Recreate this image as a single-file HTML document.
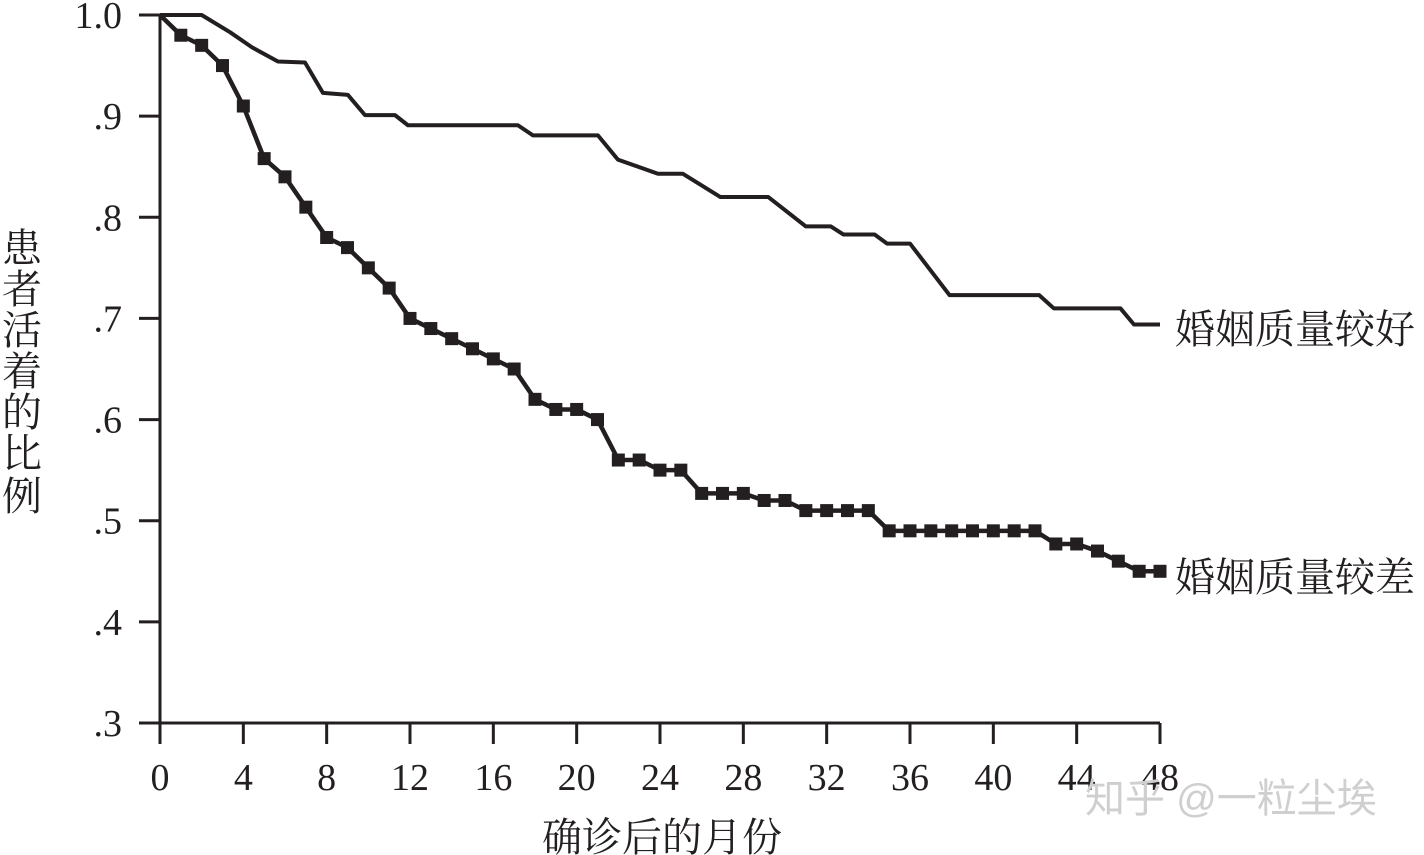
<!DOCTYPE html>
<html><head><meta charset="utf-8"><style>
html,body{margin:0;padding:0;background:#fff;}
svg{display:block;}
text{fill:#231f20;}
.num{font-family:"Liberation Serif",serif;font-size:38px;}
.cjk{font-family:"Liberation Serif","Noto Serif CJK SC",serif;font-size:40px;}
</style></head><body>
<svg id="chart" width="1424" height="855" viewBox="0 0 1424 855" xmlns="http://www.w3.org/2000/svg">
<g id="axes"></g>
<g id="series"></g>
<text class="cjk" x="662" y="851" text-anchor="middle">确诊后的月份</text>
<g>
<text class="cjk" x="2" y="262">患</text>
<text class="cjk" x="2" y="303">者</text>
<text class="cjk" x="2" y="344">活</text>
<text class="cjk" x="2" y="385">着</text>
<text class="cjk" x="2" y="426">的</text>
<text class="cjk" x="2" y="467">比</text>
<text class="cjk" x="2" y="510">例</text>
</g>
<text class="cjk" x="1175" y="343">婚姻质量较好</text>
<text class="cjk" x="1175" y="591">婚姻质量较差</text>
<text x="1085" y="812" style="font-family:'Liberation Sans','Noto Sans CJK SC',sans-serif;font-size:40px;fill:#cfcfcf">知乎 @一粒尘埃</text>
</svg>
<script>
const xTicks = [0,4,8,12,16,20,24,28,32,36,40,44,48];
const yTicks = [1.0,0.9,0.8,0.7,0.6,0.5,0.4,0.3];
const yTickLabels = ["1.0",".9",".8",".7",".6",".5",".4",".3"];
const goodMonths = [0,2,3.36,4.42,5.66,6.96,7.82,9.02,9.84,11.28,11.9,17.18,17.9,21.02,21.98,23.9,25.1,26.9,29.2,31.0,32.2,32.8,34.3,34.9,36.0,37.9,42.2,42.9,46.1,46.75,48];
const goodValues = [1.0,1.0,0.983,0.968,0.954,0.953,0.923,0.921,0.901,0.901,0.891,0.891,0.881,0.881,0.857,0.843,0.843,0.820,0.820,0.791,0.791,0.783,0.783,0.774,0.774,0.723,0.723,0.710,0.710,0.694,0.694];
const poorMonths = [0,1,2,3,4,5,6,7,8,9,10,11,12,13,14,15,16,17,18,19,20,21,22,23,24,25,26,27,28,29,30,31,32,33,34,35,36,37,38,39,40,41,42,43,44,45,46,47,48];
const poorValues = [1.0,0.98,0.97,0.95,0.91,0.858,0.84,0.81,0.78,0.77,0.75,0.73,0.70,0.69,0.68,0.67,0.66,0.65,0.62,0.61,0.61,0.60,0.56,0.56,0.55,0.55,0.527,0.527,0.527,0.52,0.52,0.51,0.51,0.51,0.51,0.49,0.49,0.49,0.49,0.49,0.49,0.49,0.49,0.477,0.477,0.47,0.46,0.45,0.45];

const NS='http://www.w3.org/2000/svg';
const X0=160, X1=1160, Y0=15, Y1=723;
function xs(m){return X0+(m/48)*(X1-X0);}
function ys(v){return Y0+(1-v)/0.7*(Y1-Y0);}
function mk(tag,attrs,parent){const e=document.createElementNS(NS,tag);for(const k in attrs)e.setAttribute(k,attrs[k]);parent.appendChild(e);return e;}
const axes=document.getElementById('axes');
const ser=document.getElementById('series');
const ya=mk('line',{x1:X0,y1:Y0,x2:X0,y2:Y1+21,stroke:'#231f20','stroke-width':3},axes);


const xa=mk('line',{x1:X0-21,y1:Y1,x2:X1,y2:Y1,stroke:'#231f20','stroke-width':3},axes);


yTicks.forEach((v,i)=>{
  const t=mk('line',{x1:X0-21,y1:ys(v),x2:X0,y2:ys(v),stroke:'#231f20','stroke-width':3},axes);
  
  
  const l=mk('text',{x:122,y:ys(v)+13,'text-anchor':'end','class':'num'},axes);
  l.textContent=yTickLabels[i];
  
  
});
xTicks.forEach(m=>{
  const t=mk('line',{x1:xs(m),y1:Y1,x2:xs(m),y2:Y1+21,stroke:'#231f20','stroke-width':3},axes);
  
  
  const l=mk('text',{x:xs(m),y:790,'text-anchor':'middle','class':'num'},axes);
  l.textContent=String(m);
  
  
});
const gp=mk('polyline',{points:goodMonths.map((m,i)=>xs(m)+','+ys(goodValues[i])).join(' '),fill:'none',stroke:'#231f20','stroke-width':4,'stroke-linejoin':'round'},ser);


const pp=mk('polyline',{points:poorMonths.map((m,i)=>xs(m)+','+ys(poorValues[i])).join(' '),fill:'none',stroke:'#231f20','stroke-width':4.5,'stroke-linejoin':'round'},ser);


poorMonths.forEach((m,i)=>{
  if(m===0)return;
  const r=mk('rect',{x:xs(m)-6.5,y:ys(poorValues[i])-6.5,width:13,height:13,fill:'#231f20'},ser);
  
  
});
</script>
</body></html>
